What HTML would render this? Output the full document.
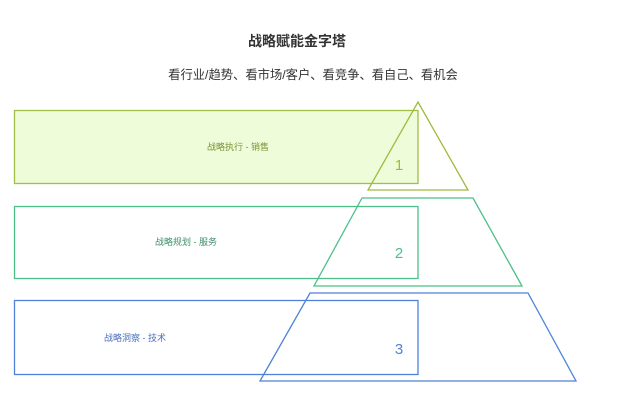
<!DOCTYPE html>
<html><head><meta charset="utf-8"><style>
html,body{margin:0;padding:0;background:#fff;}
body{width:640px;height:411px;overflow:hidden;font-family:"Liberation Sans","Noto Sans CJK SC",sans-serif;}
</style></head><body>
<svg width="640" height="411" xmlns="http://www.w3.org/2000/svg" font-family="Liberation Sans, Noto Sans CJK SC, sans-serif">
<text x="297" y="46" text-anchor="middle" font-size="14" font-weight="bold" fill="#333">战略赋能金字塔</text>
<text x="313" y="79" text-anchor="middle" font-size="12.3" fill="#333">看行业/趋势、看市场/客户、看竞争、看自己、看机会</text>
<rect x="14.5" y="110.5" width="403.5" height="73" fill="#eefcd9" stroke="#9fc045" stroke-width="1.3"/>
<rect x="14.5" y="206.5" width="403.5" height="72" fill="none" stroke="#4cc088" stroke-width="1.3"/>
<rect x="14.5" y="300.5" width="403.5" height="74" fill="none" stroke="#4f82d8" stroke-width="1.3"/>
<polygon points="418,102 468,190 368,190" fill="none" stroke="#9fbb3e" stroke-width="1.3"/>
<polygon points="362,198 473,198 522,286 314,286" fill="none" stroke="#4cc088" stroke-width="1.3"/>
<polygon points="310,293 528,293 576,381 260,381" fill="none" stroke="#4f82d8" stroke-width="1.3"/>
<text x="238" y="150" text-anchor="middle" font-size="9" fill="#7e9236">战略执行 - 销售</text>
<text x="186" y="245" text-anchor="middle" font-size="9" fill="#3f8f6a">战略规划 - 服务</text>
<text x="135" y="341" text-anchor="middle" font-size="9" fill="#4a6fc0">战略洞察 - 技术</text>
<text x="399" y="170" text-anchor="middle" font-size="15" fill="#9fbb3e">1</text>
<text x="399" y="258" text-anchor="middle" font-size="15" fill="#4cc088">2</text>
<text x="399" y="354" text-anchor="middle" font-size="15" fill="#4f82d8">3</text>
</svg>
</body></html>
